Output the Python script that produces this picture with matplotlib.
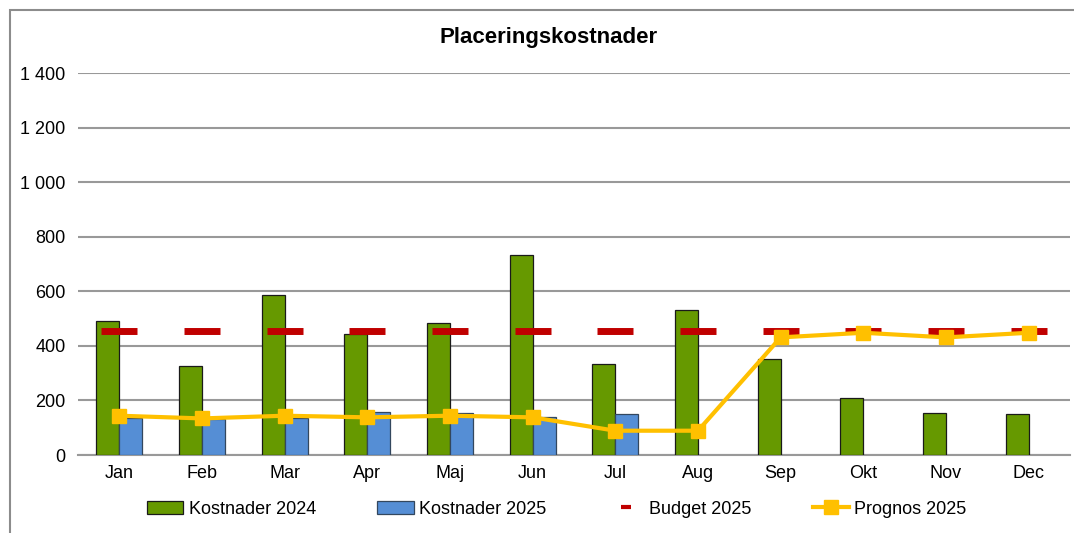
import numpy as np
import matplotlib.pyplot as plt
from matplotlib.patches import Rectangle
from matplotlib.ticker import FuncFormatter

plt.rcParams['font.family'] = ['Liberation Sans', 'DejaVu Sans']

months = ["Jan", "Feb", "Mar", "Apr", "Maj", "Jun", "Jul", "Aug", "Sep", "Okt", "Nov", "Dec"]
kostnader_2024 = [491, 326, 586, 443, 484, 733, 333, 531, 352, 209, 154, 150]
kostnader_2025 = [136, 132, 136, 157, 154, 139, 150]
budget_2025 = [455] * 12
prognos_2025 = [144, 134, 144, 138, 144, 138, 89, 89, 431, 448, 431, 448]

green = "#669900"
blue = "#558ED5"
red = "#C00000"
yellow = "#FFC000"

fig = plt.figure(figsize=(10.74, 5.33), dpi=100)
ax = fig.add_axes([78 / 1074, 1 - 455 / 533, (1070 - 78) / 1074, (455 - 73) / 533])

x = np.arange(len(months))
w = 0.28
b1 = ax.bar(x - w / 2, kostnader_2024, width=w, color=green, edgecolor="#1a1a1a",
            linewidth=0.9, label="Kostnader 2024", zorder=3)
x25 = np.arange(len(kostnader_2025))
b2 = ax.bar(x25 + w / 2, kostnader_2025, width=w, color=blue, edgecolor="#33475e",
            linewidth=0.9, label="Kostnader 2025", zorder=3)
l1, = ax.plot(x, budget_2025, linestyle="none", marker="_", markersize=26,
              markeredgewidth=5, color=red, label="Budget 2025", zorder=4)
l2, = ax.plot(x, prognos_2025, color=yellow, linewidth=3, marker="s", markersize=10,
              label="Prognos 2025", zorder=5)

ax.set_xlim(-0.5, 11.5)
ax.set_ylim(0, 1400)
ax.set_yticks(range(0, 1401, 200))
ax.yaxis.set_major_formatter(FuncFormatter(lambda v, p: f"{int(v):,}".replace(",", " ")))
ax.set_xticks(x)
ax.set_xticklabels(months)
ax.tick_params(axis="both", length=0, labelsize=13, colors="black")
ax.tick_params(axis="x", pad=7)
ax.tick_params(axis="y", pad=9)
ax.grid(axis="y", color="#999999", linewidth=1.5, zorder=0)
for s in ["top", "right", "left"]:
    ax.spines[s].set_visible(False)
ax.spines["bottom"].set_color("#999999")
ax.spines["bottom"].set_linewidth(1.5)

fig.text(549 / 1074, 1 - 38 / 533, "Placeringskostnader", ha="center", va="center",
         fontsize=16, fontweight="bold")

leg = fig.legend([b1, b2, l1, l2],
                 ["Kostnader 2024", "Kostnader 2025", "Budget 2025", "Prognos 2025"],
                 loc="center", bbox_to_anchor=(557 / 1074, 1 - 509 / 533),
                 ncol=4, frameon=False, fontsize=13, columnspacing=3.4,
                 handlelength=2.0, handletextpad=0.3)
for h in leg.legend_handles:
    if h.get_label() == "Budget 2025":
        h.set_markersize(7)
        h.set_markeredgewidth(3)

fig.add_artist(Rectangle((10 / 1074, -0.1), 2, 1 - 10 / 533 + 0.1, transform=fig.transFigure,
                         fill=False, edgecolor="#8c8c8c", linewidth=1.5))

fig.savefig("out.png", dpi=100)
